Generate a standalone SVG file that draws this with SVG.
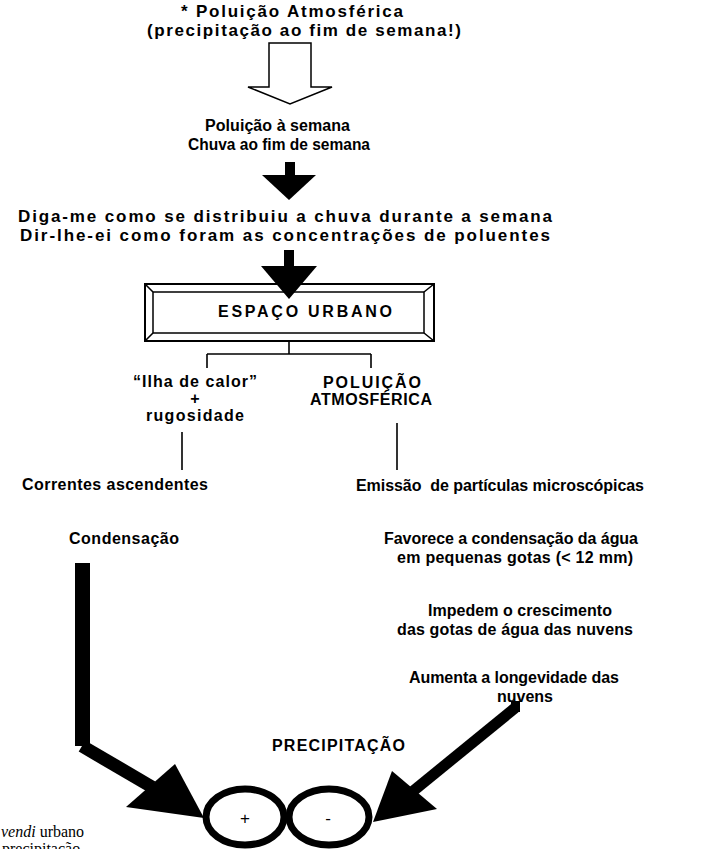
<svg xmlns="http://www.w3.org/2000/svg" width="711" height="849" viewBox="0 0 711 849">
<style>
text{font-family:"Liberation Sans",Arial,sans-serif;font-weight:bold;font-size:16px;fill:#000}
.big{font-size:17px}
.mid{text-anchor:middle}
.ser{font-family:"Liberation Serif","Times New Roman",serif;font-weight:normal;font-size:16px}
.thin{stroke:#000;stroke-width:1.6;fill:none}
.blk{fill:#000}
</style>
<rect width="711" height="849" fill="#fff"/>
<g id="title">
<text class="big" x="181" y="17" textLength="222" lengthAdjust="spacing">* Poluição Atmosférica</text>
<text class="big" x="147" y="36" textLength="314" lengthAdjust="spacing">(precipitação ao fim de semana!)</text></g>
<g id="n_semana">
<text x="205" y="131" textLength="145" lengthAdjust="spacing">Poluição à semana</text>
<text x="188" y="150" textLength="182" lengthAdjust="spacingAndGlyphs">Chuva ao fim de semana</text></g>
<g id="n_diga">
<text class="big" x="18" y="222" textLength="534" lengthAdjust="spacing">Diga-me como se distribuiu a chuva durante a semana</text>
<text class="big" x="20" y="241" textLength="530" lengthAdjust="spacing">Dir-lhe-ei como foram as concentrações de poluentes</text></g>
<g id="n_espaco">
<rect x="145" y="284" width="289" height="57" fill="#fff" stroke="#000" stroke-width="2"/>
<rect x="153" y="292" width="271" height="41" fill="none" stroke="#000" stroke-width="1.5"/>
<path class="thin" d="M145 284L153 292M434 284L424 292M145 341L153 333M434 341L424 333"/>
<text x="218" y="317" textLength="174" lengthAdjust="spacing">ESPAÇO URBANO</text></g>
<g id="n_ilha">
<text x="133" y="387" textLength="124" lengthAdjust="spacing">“Ilha de calor”</text>
<text class="mid" x="195" y="404">+</text>
<text x="146" y="421" textLength="98" lengthAdjust="spacing">rugosidade</text></g>
<g id="n_poluicao">
<text x="323" y="388" textLength="98" lengthAdjust="spacing">POLUIÇÃO</text>
<text x="310" y="405" textLength="122" lengthAdjust="spacing">ATMOSFÉRICA</text></g>
<g id="n_correntes"><text x="22" y="490" textLength="186" lengthAdjust="spacing">Correntes ascendentes</text></g>
<g id="n_emissao"><text x="356" y="491" textLength="288" lengthAdjust="spacing" xml:space="preserve">Emissão  de partículas microscópicas</text></g>
<g id="n_condensacao"><text x="69" y="544" textLength="110" lengthAdjust="spacing">Condensação</text></g>
<g id="n_favorece">
<text x="384" y="544" textLength="254" lengthAdjust="spacing">Favorece a condensação da água</text>
<text x="397" y="563" textLength="236" lengthAdjust="spacing">em pequenas gotas (&lt; 12 mm)</text></g>
<g id="n_impedem">
<text x="428" y="616" textLength="184" lengthAdjust="spacing">Impedem o crescimento</text>
<text x="397" y="635" textLength="236" lengthAdjust="spacing">das gotas de água das nuvens</text></g>
<g id="n_aumenta">
<text x="409" y="683" textLength="210" lengthAdjust="spacing">Aumenta a longevidade das</text>
<text x="497" y="702" textLength="56" lengthAdjust="spacing">nuvens</text></g>
<g id="n_precip">
<text x="272" y="751" textLength="133" lengthAdjust="spacing">PRECIPITAÇÃO</text>
<ellipse cx="245" cy="817" rx="39" ry="28" fill="none" stroke="#000" stroke-width="7"/>
<ellipse cx="329" cy="817" rx="40" ry="28" fill="none" stroke="#000" stroke-width="7"/>
<text class="mid" x="245" y="824" style="font-weight:normal;font-size:17px">+</text>
<text class="mid" x="328" y="824" style="font-weight:normal;font-size:17px">-</text></g>
<g id="connectors">
<polygon points="269,43 311,43 311,87 332,87 290,104 248,87 269,87" fill="#fff" stroke="#000" stroke-width="1.5"/>
<rect class="blk" x="285" y="162" width="10" height="14"/>
<polygon class="blk" points="262,175 316,175 289,200"/>
<rect class="blk" x="284" y="250" width="10" height="17"/>
<polygon class="blk" points="261,266 317,266 289,299"/>
<path class="thin" d="M289 341V354M207 354H371M207 354V368M371 354V368M182 432V470M397 423V470"/>
<rect class="blk" x="75" y="563" width="15" height="183"/>
<path d="M82 746L152 787" stroke="#000" stroke-width="13" fill="none"/>
<polygon class="blk" points="126,807 175,764 204,818"/>
<rect class="blk" x="511" y="701" width="9" height="11"/>
<path d="M515 708L412 792" stroke="#000" stroke-width="11" fill="none"/>
<polygon class="blk" points="392,771 437,809 373,822"/>
</g>
<g id="note">
<text class="ser" x="1" y="837"><tspan font-style="italic">vendi</tspan> urbano</text>
<text class="ser" x="2" y="854">precipitação</text></g>
</svg>
